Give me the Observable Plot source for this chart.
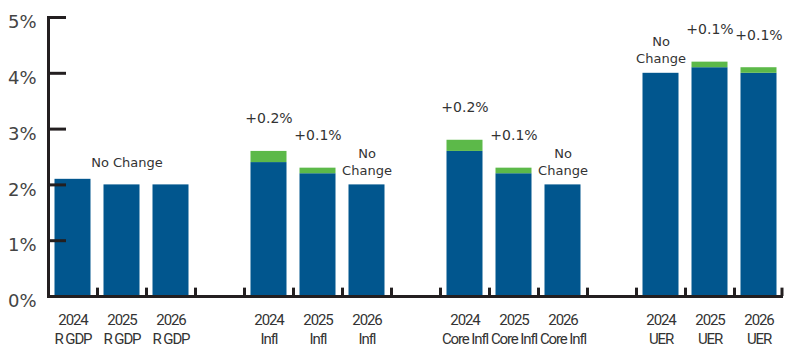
<!DOCTYPE html>
<html>
<head>
<meta charset="utf-8">
<script src="https://cdn.jsdelivr.net/npm/d3@7"></script>
<script src="https://cdn.jsdelivr.net/npm/@observablehq/plot@0.6"></script>
<style>
  html, body { margin: 0; padding: 0; background: #fff; }
  #chart svg { display: block; }
  #chart g[aria-label="x-axis tick label"] text { letter-spacing: -1.1px; }
</style>
</head>
<body>
<div id="chart"></div>
<script>
// Categories (keys), with empty gap slots between groups
const categories = ["2024|R GDP", "2025|R GDP", "2026|R GDP", "gap1",
  "2024|Infl", "2025|Infl", "2026|Infl", "gap2",
  "2024|Core Infl", "2025|Core Infl", "2026|Core Infl", "gap3",
  "2024|UER", "2025|UER", "2026|UER"];
// Previous forecast (blue) and revision (green), in %
const barKeys = ["2024|R GDP", "2025|R GDP", "2026|R GDP",
  "2024|Infl", "2025|Infl", "2026|Infl",
  "2024|Core Infl", "2025|Core Infl", "2026|Core Infl",
  "2024|UER", "2025|UER", "2026|UER"];
const baseValues = [2.1, 2.0, 2.0, 2.4, 2.2, 2.0, 2.6, 2.2, 2.0, 4.0, 4.1, 4.0];
const changeValues = [0, 0, 0, 0.2, 0.1, 0, 0.2, 0.1, 0, 0, 0.1, 0.1];
const changeLabels = ["", "", "", "+0.2%", "+0.1%", "No\nChange", "+0.2%", "+0.1%", "No\nChange", "No\nChange", "+0.1%", "+0.1%"];
const groupLabel = {key: "2025|R GDP", text: "No Change"};
const yTicks = [0, 1, 2, 3, 4, 5];

const data = barKeys.map((k, i) => ({
  key: k, base: baseValues[i], change: changeValues[i],
  total: +(baseValues[i] + changeValues[i]).toFixed(2), label: changeLabels[i]
}));

const W = 790, H = 355, mL = 48, mR = 7, mT = 17, mB = 59;
const bw = (W - mL - mR) / categories.length;
const ink = "#231f20";
const blue = "#01568e", green = "#5cb949";
const font = "'DejaVu Sans', sans-serif";
const narrow = "Roboto, sans-serif";

const plusLabels = data.filter(d => d.label && d.label.startsWith("+"));
const ncLabels = data.filter(d => d.label && d.label.startsWith("No"));

const chart = Plot.plot({
  width: W, height: H,
  marginLeft: mL, marginRight: mR, marginTop: mT, marginBottom: mB,
  style: {fontFamily: font, background: "#fff"},
  x: {domain: categories, padding: 0, axis: null},
  y: {domain: [0, 5], axis: null},
  marks: [
    Plot.barY(data, {x: "key", y1: 0, y2: "base", fill: blue, insetLeft: 6.5, insetRight: 6.5}),
    Plot.barY(data.filter(d => d.change > 0), {x: "key", y1: "base", y2: "total", fill: green, insetLeft: 6.5, insetRight: 6.5}),
    // x baseline
    Plot.ruleY([0], {stroke: ink, strokeWidth: 3}),
    // y axis line
    Plot.frame({anchor: "left", stroke: ink, strokeWidth: 3}),
    // y ticks (inward) and labels
    Plot.axisY({ticks: yTicks, tickSize: -18, stroke: ink, strokeWidth: 3, tickFormat: () => "", label: null}),
    Plot.axisY({ticks: yTicks, tickSize: 0, tickPadding: 12, tickFormat: d => d + "%",
      fontSize: 18, fill: "#444", dy: 5, label: null}),
    // x tick marks at band boundaries
    Plot.ruleX(categories, {x: d => d, y1: 0, y2: 0.15, dx: -bw / 2, stroke: ink, strokeWidth: 3}),
    Plot.ruleX([categories[categories.length - 1]], {x: d => d, y1: 0, y2: 0.15, dx: bw / 2 - 1.5, stroke: ink, strokeWidth: 3}),
    // x labels
    Plot.axisX({tickSize: 0, tickPadding: 15, fontSize: 15, fill: "#333", fontFamily: narrow,
      lineHeight: 1.27, label: null,
      tickFormat: k => k.startsWith("gap") ? "" : k.replace("|", "\n")}),
    // annotations
    Plot.text(plusLabels, {x: "key", y: "total", text: "label", lineAnchor: "bottom", dy: -28, fontSize: 14, fill: "#333"}),
    Plot.text(ncLabels, {x: "key", y: "total", text: "label", lineAnchor: "bottom", dy: -10, fontSize: 13, lineHeight: 1.3, fill: "#333"}),
    Plot.text([groupLabel], {x: "key", y: d => data.find(e => e.key === d.key).total, text: "text", lineAnchor: "bottom", dy: -18, dx: 5, fontSize: 13, fill: "#333"})
  ]
});
document.getElementById("chart").appendChild(chart);
</script>
</body>
</html>
